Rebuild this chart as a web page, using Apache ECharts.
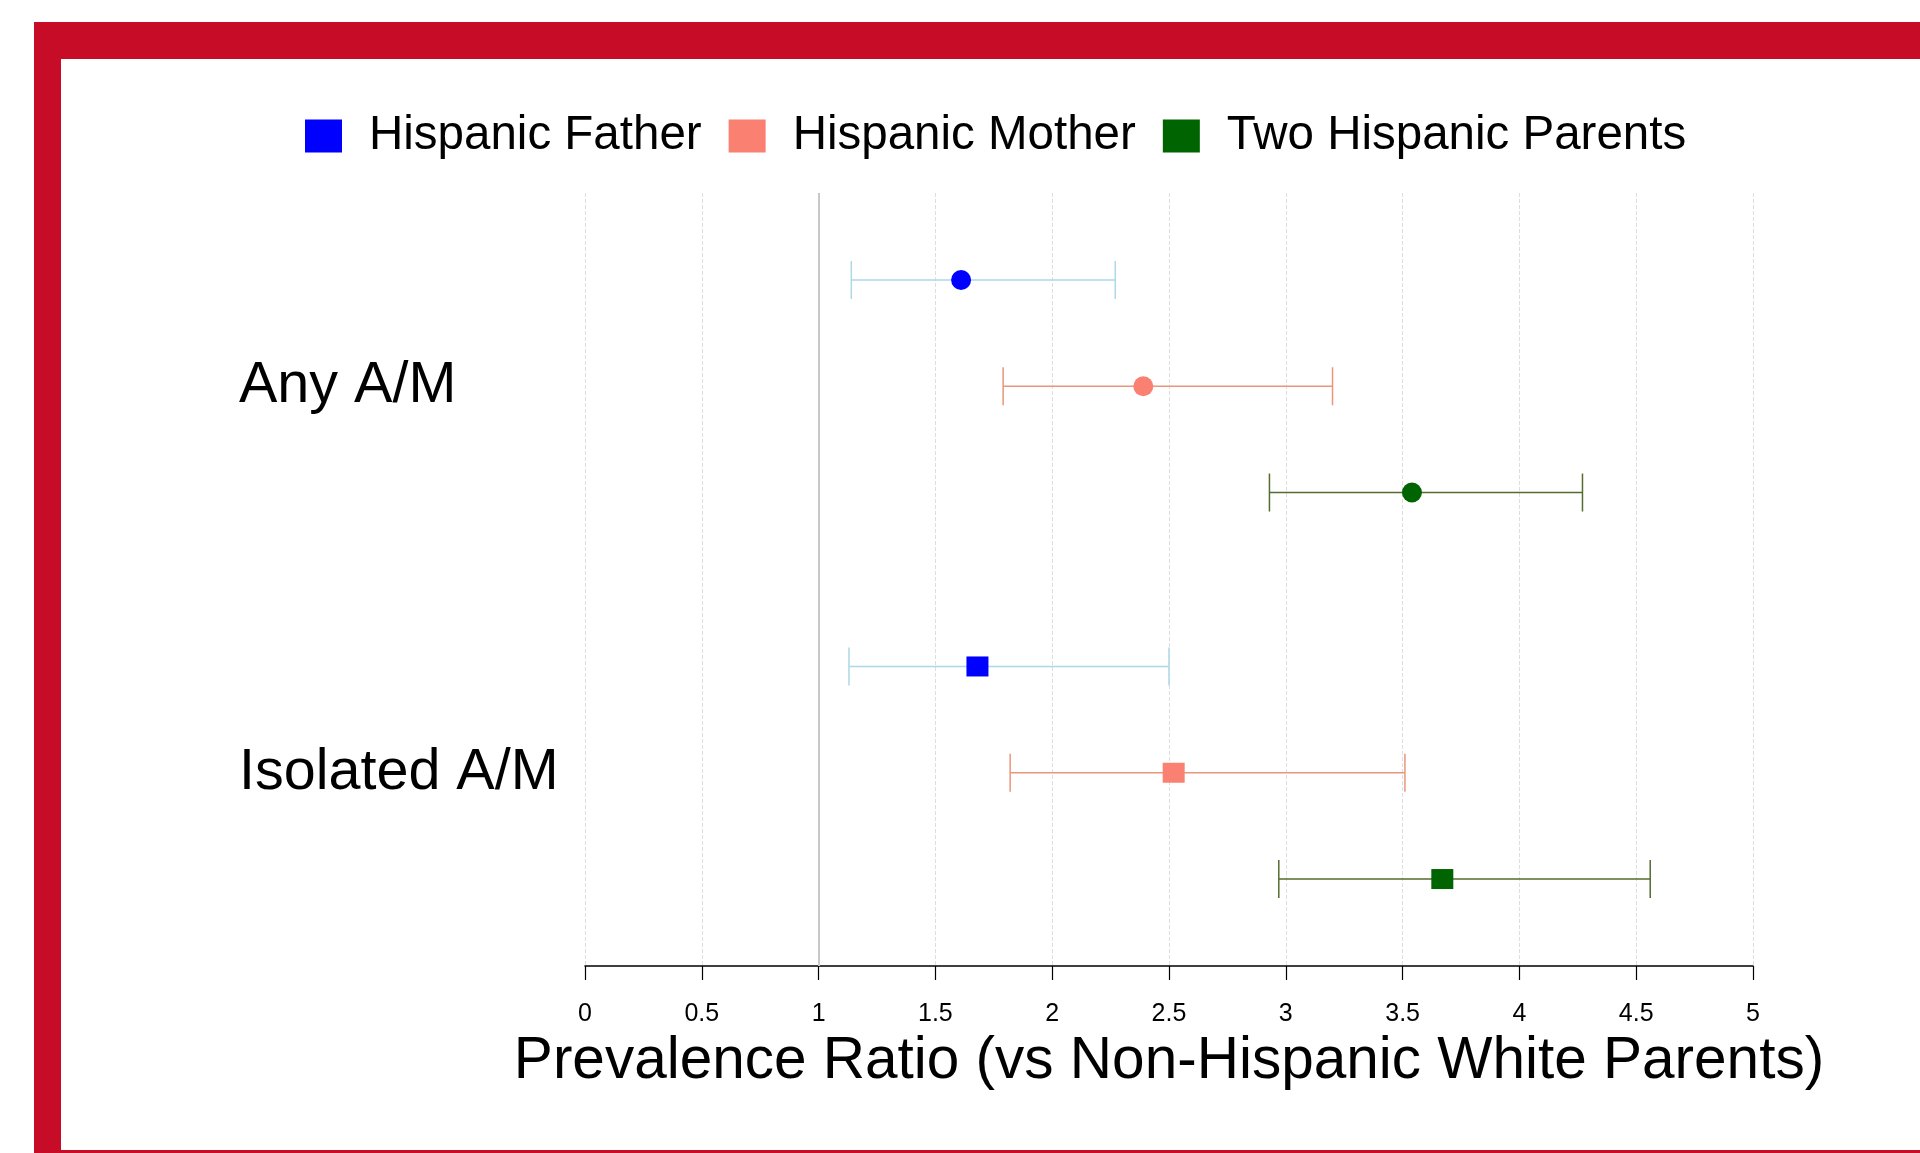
<!DOCTYPE html>
<html>
<head>
<meta charset="utf-8">
<title>Prevalence Ratio forest plot</title>
<script src="https://cdn.jsdelivr.net/npm/echarts@6/dist/echarts.min.js"></script>
<style>
  html, body { margin: 0; padding: 0; background: #fff; }
  #chart { width: 1920px; height: 1153px; }
</style>
</head>
<body>
<div id="chart"></div>
<script>
// outcome groups (rows on the y axis)
const groups = ['Any A/M', 'Isolated A/M']
const seriesNames = ['Hispanic Father', 'Hispanic Mother', 'Two Hispanic Parents']

// prevalence ratio + 95% CI, one entry per group
const fatherPR = [1.61, 1.68]
const fatherLow = [1.14, 1.13]
const fatherHigh = [2.27, 2.50]

const motherPR = [2.39, 2.52]
const motherLow = [1.79, 1.82]
const motherHigh = [3.20, 3.51]

const twoPR = [3.54, 3.67]
const twoLow = [2.93, 2.97]
const twoHigh = [4.27, 4.56]

const xMin = 0
const xMax = 5
const xStep = 0.5

const pointColors = ['#0000FF', '#FA8072', '#006400']
const barColors = ['#ADD8E6', '#E9967A', '#556B2F']
const font = "'Liberation Sans', Arial, sans-serif"
const frameRed = '#C60C26'

const buildData = (pr, low, high) =>
  groups.map((g, i) => [i, low[i], pr[i], high[i]])

const renderItem = (params, api) => {
  const cat = api.value(0)
  const band = api.size([0, 1])[1]
  const dy = (params.seriesIndex - 1) * band * 0.275
  const lo = api.coord([api.value(1), cat])
  const mid = api.coord([api.value(2), cat])
  const hi = api.coord([api.value(3), cat])
  const y = mid[1] + dy
  const cap = 19
  const lineStyle = { stroke: barColors[params.seriesIndex], lineWidth: 1.5 }
  const marker = cat === 0
    ? { type: 'circle', shape: { cx: mid[0], cy: y, r: 10 }, style: { fill: api.visual('color') } }
    : { type: 'rect', shape: { x: mid[0] - 11, y: y - 10, width: 22, height: 20 }, style: { fill: api.visual('color') } }
  return {
    type: 'group',
    children: [
      { type: 'line', shape: { x1: lo[0], y1: y, x2: hi[0], y2: y }, style: lineStyle },
      { type: 'line', shape: { x1: lo[0], y1: y - cap, x2: lo[0], y2: y + cap }, style: lineStyle },
      { type: 'line', shape: { x1: hi[0], y1: y - cap, x2: hi[0], y2: y + cap }, style: lineStyle },
      marker
    ]
  }
}

const seriesData = [
  buildData(fatherPR, fatherLow, fatherHigh),
  buildData(motherPR, motherLow, motherHigh),
  buildData(twoPR, twoLow, twoHigh)
]

const chart = echarts.init(document.getElementById('chart'))

chart.setOption({
  animation: false,
  backgroundColor: '#fff',
  textStyle: { fontFamily: font },
  graphic: [
    { type: 'rect', shape: { x: 34, y: 22, width: 1886, height: 37 }, style: { fill: frameRed } },
    { type: 'rect', shape: { x: 34, y: 22, width: 27, height: 1131 }, style: { fill: frameRed } },
    { type: 'rect', shape: { x: 34, y: 1150, width: 1886, height: 3 }, style: { fill: frameRed } }
  ],
  legend: {
    data: seriesNames,
    left: 300,
    top: 107,
    icon: 'rect',
    itemWidth: 37,
    itemHeight: 33,
    itemGap: 27,
    textStyle: {
      fontSize: 47.5,
      color: '#000',
      fontFamily: font,
      padding: [0, 0, 0, 22]
    }
  },
  grid: {
    left: 585,
    right: 167,
    top: 193,
    bottom: 187
  },
  xAxis: {
    type: 'value',
    min: xMin,
    max: xMax,
    interval: xStep,
    name: 'Prevalence Ratio (vs Non-Hispanic White Parents)',
    nameLocation: 'middle',
    nameGap: 51,
    nameTextStyle: { fontSize: 58.5, color: '#000', fontFamily: font },
    axisLine: { show: true, lineStyle: { color: '#000', width: 1.5 } },
    axisTick: { show: true, length: 14, lineStyle: { color: '#000', width: 1.2 } },
    axisLabel: { fontSize: 25, color: '#000', margin: 36, fontFamily: font },
    splitLine: { show: true, lineStyle: { color: '#dedede', type: 'dashed', width: 1 } }
  },
  yAxis: {
    type: 'category',
    data: groups,
    inverse: true,
    axisLine: { show: false },
    axisTick: { show: false },
    splitLine: { show: false },
    axisLabel: {
      fontSize: 57.5,
      color: '#000',
      align: 'left',
      verticalAlign: 'middle',
      margin: 346,
      padding: [20, 0, 0, 0],
      fontFamily: font
    }
  },
  series: [
    ...seriesNames.map((name, i) => ({
      name: name,
      type: 'custom',
      renderItem: renderItem,
      itemStyle: { color: pointColors[i] },
      encode: { x: [1, 2, 3], y: 0 },
      data: seriesData[i],
      z: 5
    })),
    {
      name: 'ref',
      type: 'line',
      data: [],
      markLine: {
        silent: true,
        symbol: 'none',
        label: { show: false },
        lineStyle: { color: '#c8c8c8', type: 'solid', width: 2 },
        data: [{ xAxis: 1 }]
      },
      z: 3
    }
  ]
})

window.addEventListener('resize', () => chart.resize())
</script>
</body>
</html>
